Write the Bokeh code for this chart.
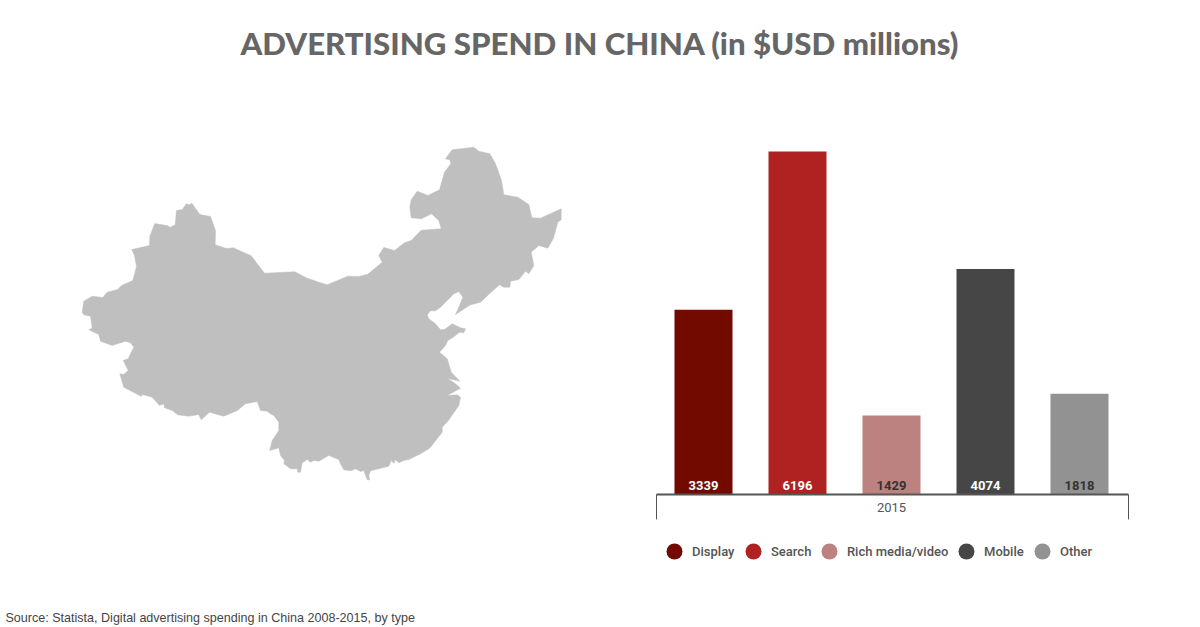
from bokeh.core.properties import value
from bokeh.embed import file_html
from bokeh.models import ColumnDataSource, Range1d
from bokeh.plotting import figure
from bokeh.resources import INLINE

TITLE = "ADVERTISING SPEND IN CHINA (in $USD millions)"
SOURCE_NOTE = "Source: Statista, Digital advertising spending in China 2008-2015, by type"
YEAR = "2015"
categories = ["Display", "Search", "Rich media/video", "Mobile", "Other"]
spend = [3339, 6196, 1429, 4074, 1818]
colors = ["#720A00", "#B02222", "#BC8280", "#464646", "#929292"]
label_colors = ["#FFFFFF", "#FFFFFF", "#333333", "#FFFFFF", "#333333"]

map_x = [81.7, 83.3, 91.7, 102.3, 106.7, 117.3, 121, 132.3, 136, 134, 131.3, 149, 149.3, 154.3, 167.7, 169.3, 174.7, 176, 181.7, 186, 188.7, 191.3, 199.3, 210, 215, 214.7, 226, 232.7, 250.7, 264, 294.3, 306.7, 320,
         326.7, 347.3, 358.3, 367.3, 381.7, 378.3, 383.3, 394, 404, 410.7, 420.7, 440.7, 438.3, 431, 421, 410.7, 409.3, 410.7, 416.7, 427.3, 439, 444, 450.3, 449.3, 445, 451.7, 473.3, 478.3, 489.3, 495, 501, 503.3, 517.3, 528.3, 531.3, 540, 560.7, 560.7, 557.3, 552.7, 547.3, 538.3, 530.7, 533.3, 528.3, 525, 518.3, 510, 509.3, 503.3, 499, 490, 480, 470, 455, 458.3, 462.3, 458.3, 453.3, 440, 435, 430, 426.7,
         428.3, 435, 440, 444, 451.7, 460, 465, 463.3, 459, 452.7, 447.3, 445, 439, 446.7, 450.7, 459.3, 446.7, 455, 460, 452.7, 446.7, 456.7, 460, 458.3, 452, 448, 441.7, 441.7, 430, 428.3, 420, 408.3, 403.3, 398.3, 395, 393.3, 390.7, 388.3, 370, 368.3, 369.3, 366.7, 363.3, 360, 355, 350.7, 343.3, 340, 338.3, 328.3, 318.3, 313.3, 310, 306.7, 301.7, 300, 297.3, 296.7, 290, 283.3, 284, 280, 278.3, 269.3, 271.7, 278.3, 278.3, 273.3, 270, 266.7, 260,
         256.7, 245, 236.7, 223.3, 209, 200.7, 198.3, 188.3, 177.3, 171.7, 164, 163.3, 159, 151.7, 141.7, 141, 123.3, 119.3, 123.3, 127.7, 122.7, 127.7, 133.3, 130, 125, 111.7, 100, 98.3, 88.3, 91.7, 90, 83.3]
map_y = [311.7, 300.7, 295.7, 297, 291.7, 289, 285, 280, 266, 255, 249, 245, 236, 223, 225.3, 227, 224.3, 210, 209, 203.3, 204.3, 202.7, 214, 216, 230, 244.3, 248, 247.3, 255.3, 272.7, 271.3, 277.7, 282.3,
         284.3, 275.7, 276, 273.7, 261.7, 255, 247, 250, 242.3, 240, 229.7, 228.3, 220, 213.3, 218.3, 217.3, 206.7, 199.3, 190.7, 195, 189.3, 171.7, 163.3, 159.3, 158.3, 149.3, 146.7, 150.7, 153.3, 163.3, 180, 194.3, 196.7, 204, 217.3, 217.7, 208.3, 219.3, 221.7, 238.3, 247.7, 245, 251.7, 265, 273.3, 270.7, 279, 280.7, 286.7, 286.7, 284.3, 292.3, 301.7, 304.3, 314, 306.7, 296.7, 291, 293.3, 306.7, 310.3, 310.3, 314.3,
         318.3, 323.3, 329.3, 329, 323.3, 327.3, 328.3, 332.3, 331.7, 336.7, 340, 345, 351.7, 358.3, 371.7, 380.7, 377.7, 383.3, 387.7, 391.7, 395, 394.3, 396.7, 405, 414, 420, 426.7, 431.7, 446.7, 448.3, 453.3, 459, 460, 462.3, 459.3, 462.7, 460, 465.7, 470.3, 475, 479.3, 479.3, 470, 471, 468.3, 470.3, 469.3, 463.3, 459, 455, 460.7, 460, 461.7, 459, 462.3, 471.7, 471.7, 468.3, 468.3, 463.3, 460, 455, 447.3, 450, 440, 430, 421.7, 415, 413.3, 410.7, 410,
         401, 403.3, 410, 415.7, 411.7, 419.3, 414, 415.7, 414.3, 410, 407.3, 403.3, 405, 396.7, 394, 396, 386.7, 373.3, 374, 370, 360, 358.3, 346.7, 342.3, 340.7, 345, 340.7, 334, 329.3, 327.7, 315.7, 314.3]

# The figure fills the window, so the layout ranges read directly in window pixels.
W, H = 1200, 627
p = figure(width=W, height=H, output_backend="svg", toolbar_location=None,
           x_range=Range1d(0, W), y_range=Range1d(H, 0),
           min_border=0, min_border_left=0, min_border_right=0, min_border_top=0, min_border_bottom=0,
           outline_line_color=None, background_fill_color="#FFFFFF", border_fill_color="#FFFFFF")
p.axis.visible = False
p.grid.visible = False

slot = 94.0
axis_left = 656.0
axis_right = 1128.0
px_per_unit = 343.0 / 6196.0
baseline = 494.0
p.extra_x_ranges["bars"] = Range1d((0 - axis_left) / slot, (W - axis_left) / slot)
p.extra_y_ranges["bars"] = Range1d((baseline - H) / px_per_unit, baseline / px_per_unit)

src = ColumnDataSource(dict(
    x=[i + 0.5 for i in range(len(categories))],
    top=spend,
    color=colors,
    label=[str(v) for v in spend],
    label_color=label_colors,
))

p.patch(map_x, map_y, fill_color="#BFBFBF", line_color="#BFBFBF", line_width=0.5)

p.vbar(x="x", top="top", bottom=0, width=58 / slot, fill_color="color", line_color=None, source=src,
       x_range_name="bars", y_range_name="bars")
p.text(x="x", y=0, text="label", source=src, x_range_name="bars", y_range_name="bars",
       text_color="label_color", text_font=value("Roboto"), text_font_style="bold",
       text_font_size="13px", text_align="center", text_baseline="middle", y_offset=-9)

# category axis with its outer ticks and year label
n = len(categories)
axis_end = (axis_right - axis_left) / slot
p.segment(x0=[0], y0=[0], x1=[axis_end], y1=[0], x_range_name="bars", y_range_name="bars",
          line_color="#555555", line_width=2)
p.segment(x0=[0, axis_end], y0=[0, 0], x1=[0, axis_end], y1=[-450, -450], x_range_name="bars", y_range_name="bars",
          line_color="#555555", line_width=1)
p.text(x=[n / 2], y=[0], text=[YEAR], x_range_name="bars", y_range_name="bars", y_offset=13,
       text_color="#555555", text_font=value("Roboto"), text_font_size="13px",
       text_align="center", text_baseline="middle")

# legend
legend_dot_x = [674, 753, 829, 966, 1042]
legend_text_x = [691.5, 770.5, 846.5, 983.5, 1059.5]
legend_y = [551] * n
p.scatter(legend_dot_x, legend_y, size=16, marker="circle", color=colors, line_color=None)
p.text(legend_text_x, legend_y, text=categories, text_color="#555555", text_font=value("Roboto Medium"),
       text_font_size="13px", text_align="left", text_baseline="middle")

p.text([599.5], [42.5], text=[TITLE], text_color="#666666", text_font=value("Lato Black"), text_font_style="bold",
       text_font_size="31.2px", text_align="center", text_baseline="middle")
p.text([5], [617], text=[SOURCE_NOTE], text_color="#444444", text_font=value("Liberation Sans"),
       text_font_size="12.55px", text_align="left", text_baseline="middle")

open("out.html", "w").write(file_html(p, INLINE))
